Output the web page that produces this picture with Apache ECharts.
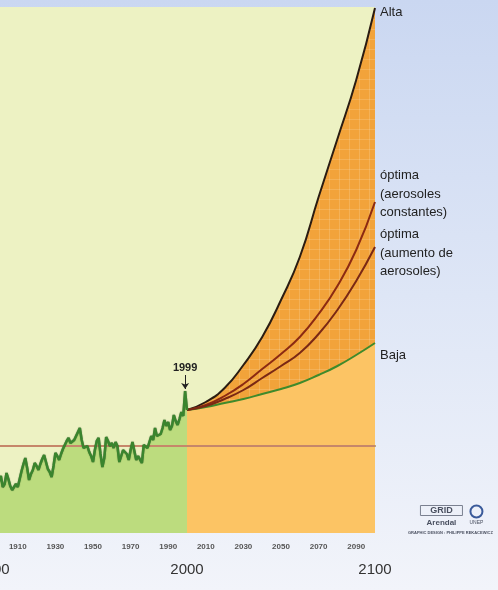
<!DOCTYPE html>
<html>
<head>
<meta charset="utf-8">
<script src="https://cdn.jsdelivr.net/npm/echarts@6/dist/echarts.min.js"></script>
<style>
  html, body {
    margin: 0;
    padding: 0;
  }
  body {
    width: 498px;
    height: 590px;
    background: linear-gradient(#cad7f1, #e2e9f7 60%, #f2f4fa);
  }
  #chart {
    width: 498px;
    height: 590px;
  }
</style>
</head>
<body>
<div id="chart"></div>
<script>
// historical series 1900-2000, °C relative to the reference line
const histYears = []
for (let y = 1900; y <= 2000; y++) histYears.push(y)
const histValues = [
  -0.35, -0.30, -0.41, -0.38, -0.27, -0.33, -0.40, -0.44, -0.42, -0.38,
  -0.41, -0.33, -0.25, -0.18, -0.12, -0.22, -0.34, -0.28, -0.24, -0.17,
  -0.20, -0.24, -0.18, -0.13, -0.09, -0.16, -0.23, -0.26, -0.31, -0.20,
  -0.07, -0.10, -0.14, -0.08, -0.03, -0.01, 0.05, 0.08, 0.03, 0.01,
  0.06, 0.10, 0.14, 0.18, 0.06, -0.02, -0.04, 0.00, -0.06, -0.10,
  -0.16, -0.04, 0.05, 0.08, -0.08, -0.21, -0.12, 0.09, 0.05, 0.00,
  0.03, -0.02, 0.04, 0.00, -0.16, -0.10, -0.04, -0.04, -0.08, -0.14,
  -0.04, 0.04, -0.05, -0.14, -0.10, -0.12, -0.17, 0.01, 0.02, -0.02,
  0.04, 0.10, 0.06, 0.18, 0.10, 0.08, 0.12, 0.18, 0.26, 0.20,
  0.24, 0.16, 0.20, 0.31, 0.25, 0.21, 0.27, 0.34, 0.30, 0.55,
  0.36
]

// projections 2000-2100
const projYears = [2000, 2010, 2020, 2030, 2040, 2050, 2060, 2070, 2080, 2090, 2100]
const alta = [0.36, 0.44, 0.58, 0.81, 1.09, 1.46, 1.89, 2.49, 3.07, 3.66, 4.38]
const optimaConst = [0.36, 0.41, 0.50, 0.62, 0.77, 0.92, 1.09, 1.32, 1.60, 1.96, 2.44]
const optimaAum = [0.36, 0.40, 0.47, 0.56, 0.68, 0.80, 0.93, 1.12, 1.36, 1.65, 1.99]
const baja = [0.36, 0.39, 0.43, 0.47, 0.52, 0.57, 0.63, 0.71, 0.80, 0.91, 1.03]

const smallTicks = [1910, 1930, 1950, 1970, 1990, 2010, 2030, 2050, 2070, 2090]
const bigTicks = [1900, 2000, 2100]

const zip = (xs, ys) => xs.map((x, i) => [x, ys[i]])
const font = 'Liberation Sans, Arial, sans-serif'

// orange fill with the faint white squares of the original
function gridPattern () {
  let c = document.createElement('canvas')
  c.width = 10
  c.height = 10
  let ctx = c.getContext('2d')
  ctx.fillStyle = '#f2a33a'
  ctx.fillRect(0, 0, 10, 10)
  ctx.fillStyle = 'rgba(255,235,200,0.2)'
  ctx.fillRect(9, 0, 1, 10)
  ctx.fillRect(0, 9, 10, 1)
  return c
}

let myChart = echarts.init(document.getElementById('chart'))

function endLabel (text, dy) {
  return {
    show: true,
    formatter: text,
    offset: [-3, dy],
    color: '#222',
    fontSize: 13,
    fontFamily: font,
    lineHeight: 18.5,
    align: 'left'
  }
}

let option = {
  animation: false,
  grid: {
    left: -1,
    right: 123,
    top: 7,
    bottom: 57,
    containLabel: false,
    outerBoundsMode: 'none',
    show: true,
    backgroundColor: '#edf2c3',
    borderWidth: 0
  },
  xAxis: [
    {
      type: 'value',
      position: 'bottom',
      min: 1900,
      max: 2100,
      interval: 10,
      axisLine: { lineStyle: { color: '#a89358', width: 2 } },
      axisTick: { show: false },
      splitLine: { show: false },
      axisLabel: {
        margin: 10,
        fontSize: 8,
        fontWeight: 'bold',
        color: '#555',
        fontFamily: font,
        showMinLabel: true,
        showMaxLabel: false,
        formatter: v => smallTicks.indexOf(v) >= 0 ? String(v) : ''
      }
    },
    {
      type: 'value',
      position: 'bottom',
      min: 1900,
      max: 2100,
      interval: 100,
      axisLine: { show: false },
      axisTick: { show: false },
      splitLine: { show: false },
      axisLabel: {
        margin: 29,
        fontSize: 15,
        color: '#333',
        fontFamily: font,
        showMinLabel: true,
        showMaxLabel: true,
        formatter: v => {
          if (v === 1900) return '{first|1900}'
          return bigTicks.indexOf(v) >= 0 ? String(v) : ''
        },
        rich: {
          first: { fontSize: 15, color: '#333', fontFamily: font, padding: [0, 12, 0, 0] }
        }
      }
    }
  ],
  yAxis: {
    type: 'value',
    min: -0.87,
    max: 4.39,
    show: false,
    splitLine: { show: false }
  },
  series: [
    {
      name: 'Alta',
      type: 'line',
      smooth: true,
      symbol: 'none',
      data: zip(projYears, alta),
      lineStyle: { color: '#2a1c12', width: 2 },
      areaStyle: { color: { image: gridPattern(), repeat: 'repeat' }, opacity: 1, origin: 'start' },
      endLabel: endLabel('Alta', 4),
      z: 2
    },
    {
      name: 'Baja',
      type: 'line',
      smooth: true,
      symbol: 'none',
      data: zip(projYears, baja),
      lineStyle: { color: '#3f8a2b', width: 2 },
      areaStyle: { color: '#fcc464', opacity: 1, origin: 'start' },
      endLabel: endLabel('Baja', 12),
      z: 2
    },
    {
      name: 'óptima (aerosoles constantes)',
      type: 'line',
      smooth: true,
      symbol: 'none',
      data: zip(projYears, optimaConst),
      lineStyle: { color: '#8c2a12', width: 2 },
      endLabel: endLabel('óptima\n(aerosoles\nconstantes)', -8),
      z: 3
    },
    {
      name: 'óptima (aumento de aerosoles)',
      type: 'line',
      smooth: true,
      symbol: 'none',
      data: zip(projYears, optimaAum),
      lineStyle: { color: '#7a2814', width: 2 },
      endLabel: endLabel('óptima\n(aumento de\naerosoles)', 6),
      z: 3
    },
    {
      name: 'histArea',
      type: 'line',
      symbol: 'none',
      data: zip(histYears, histValues),
      lineStyle: { width: 0 },
      areaStyle: { color: '#bcdc7e', opacity: 1, origin: 'start' },
      z: 3
    },
    {
      name: 'referencia',
      type: 'line',
      symbol: 'none',
      data: [[1900, 0], [2100, 0]],
      lineStyle: { color: '#c6876a', width: 2 },
      z: 4
    },
    {
      name: 'Observada',
      type: 'line',
      symbol: 'none',
      data: zip(histYears, histValues),
      lineStyle: {
        color: '#3a852e',
        width: 2.5,
        shadowColor: 'rgba(20,50,10,0.6)',
        shadowBlur: 1
      },
      markLine: {
        silent: true,
        symbol: ['arrow', 'none'],
        symbolSize: 6,
        lineStyle: { color: '#222', width: 1, type: 'solid' },
        label: {
          show: true,
          position: 'end',
          formatter: '1999',
          fontSize: 11,
          fontWeight: 'bold',
          color: '#222',
          fontFamily: font,
          distance: 2
        },
        data: [[{ coord: [1999, 0.57] }, { coord: [1999, 0.71] }]]
      },
      z: 5
    }
  ],
  graphic: [
    {
      type: 'group',
      left: 408,
      top: 503,
      children: [
        { type: 'rect', shape: { x: 0, y: 1, width: 42, height: 10 }, style: { fill: 'none', stroke: '#7a8090', lineWidth: 1 } },
        { type: 'text', style: { x: 21, y: 6, text: 'GRID', fill: '#4a5060', font: 'bold 9px ' + font, align: 'center', verticalAlign: 'middle' } },
        { type: 'text', style: { x: 21, y: 18, text: 'Arendal', fill: '#4a5060', font: 'bold 8px ' + font, align: 'center', verticalAlign: 'middle' } },
        { type: 'circle', shape: { cx: 56, cy: 7, r: 6 }, style: { fill: 'none', stroke: '#3a5a9a', lineWidth: 2 } },
        { type: 'text', style: { x: 56, y: 18, text: 'UNEP', fill: '#4a5060', font: '5px ' + font, align: 'center', verticalAlign: 'middle' } },
        { type: 'text', style: { x: 30, y: 28, text: 'GRAPHIC DESIGN : PHILIPPE REKACEWICZ', fill: '#4a5060', font: 'bold 4px ' + font, align: 'center', verticalAlign: 'middle' } }
      ]
    }
  ]
}

myChart.setOption(option)
</script>
</body>
</html>
